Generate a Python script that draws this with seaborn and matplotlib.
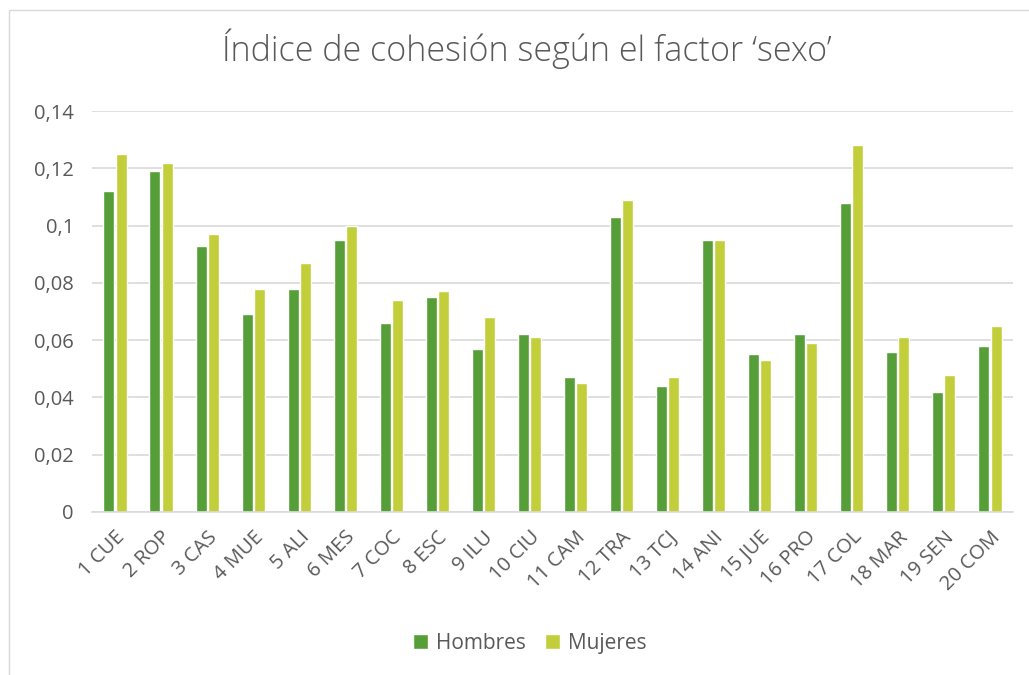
import pandas as pd
import matplotlib
matplotlib.use("Agg")
import matplotlib.pyplot as plt
from matplotlib.ticker import FuncFormatter
from matplotlib.patches import Rectangle
import seaborn as sns

# datos
categorias = ["1 CUE", "2 ROP", "3 CAS", "4 MUE", "5 ALI", "6 MES", "7 COC", "8 ESC",
              "9 ILU", "10 CIU", "11 CAM", "12 TRA", "13 TCJ", "14 ANI", "15 JUE",
              "16 PRO", "17 COL", "18 MAR", "19 SEN", "20 COM"]
hombres = [0.112, 0.119, 0.093, 0.069, 0.078, 0.095, 0.066, 0.075, 0.057, 0.062,
           0.047, 0.103, 0.044, 0.095, 0.055, 0.062, 0.108, 0.056, 0.042, 0.058]
mujeres = [0.125, 0.122, 0.097, 0.078, 0.087, 0.100, 0.074, 0.077, 0.068, 0.061,
           0.045, 0.109, 0.047, 0.095, 0.053, 0.059, 0.128, 0.061, 0.048, 0.065]
series = ["Hombres", "Mujeres"]
colores = ["#559E38", "#C2CF3B"]

df = pd.DataFrame({
    "categoria": categorias * 2,
    "valor": hombres + mujeres,
    "sexo": [series[0]] * len(categorias) + [series[1]] * len(categorias),
})

sns.set_theme(style="white")
plt.rcParams["font.family"] = ["Open Sans", "DejaVu Sans"]
texto = "#595959"

fig = plt.figure(figsize=(10.29, 6.75), dpi=100)
ax = fig.add_axes([0.0894, 0.2415, 0.8950, 0.594])

sns.barplot(data=df, x="categoria", y="valor", hue="sexo", palette=colores,
            width=0.53, gap=0.1, ax=ax, saturation=1, legend=True)

ax.set_ylim(0, 0.14)
ax.set_yticks([i * 0.02 for i in range(8)])
ax.yaxis.set_major_formatter(FuncFormatter(lambda v, p: f"{v:g}".replace(".", ",")))
ax.set_xlim(-0.5, len(categorias) - 0.5)
ax.grid(axis="y", color="#D9D9D9", linewidth=1.2)
ax.set_axisbelow(True)
for s in ["top", "right", "left"]:
    ax.spines[s].set_visible(False)
ax.spines["bottom"].set_color("#D9D9D9")
ax.spines["bottom"].set_linewidth(1.2)
ax.set_xlabel("")
ax.set_ylabel("")
ax.tick_params(axis="y", colors=texto, labelsize=14.5, length=0, pad=13)
ax.tick_params(axis="x", colors=texto, labelsize=14.5, length=0, pad=11)
plt.setp(ax.get_xticklabels(), rotation=45, ha="right", rotation_mode="anchor")

handles, labels = ax.get_legend_handles_labels()
ax.legend_.remove()
fig.legend(handles, labels, loc="center", bbox_to_anchor=(0.515, 0.047), ncol=2,
           frameon=False, fontsize=15, handlelength=0.7, handleheight=0.7,
           handletextpad=0.4, columnspacing=0.9, labelcolor=texto)

fig.text(0.512, 0.928, "Índice de cohesión según el factor ‘sexo’", ha="center",
         va="center", fontsize=24.5, color=texto, fontweight="light")

fig.patches.append(Rectangle((0.009, -0.05), 1.2, 1.035, transform=fig.transFigure,
                             fill=False, edgecolor="#D9D9D9", linewidth=1))

fig.savefig("out.png", dpi=100)
